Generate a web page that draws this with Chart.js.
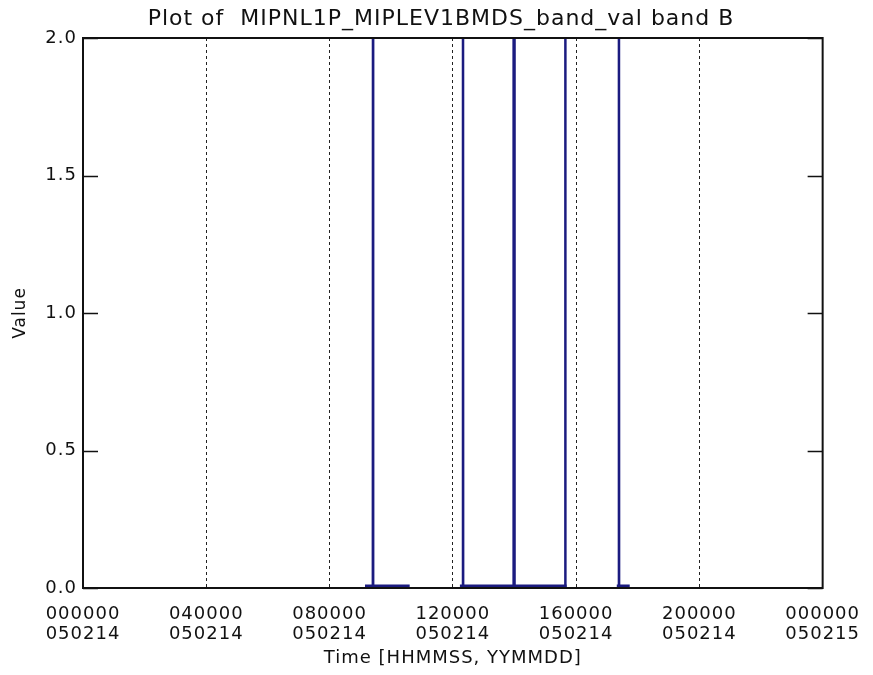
<!DOCTYPE html>
<html lang="en">
<head>
  <meta charset="UTF-8" />
  <title>Plot of MIPNL1P_MIPLEV1BMDS_band_val band B</title>
  <script src="https://cdn.jsdelivr.net/npm/chart.js"></script>
  <style>
    body {
      margin: 0;
      background: #ffffff;
    }
    #plot {
      display: block;
    }
  </style>
</head>
<body>
  <canvas id="plot" width="873" height="675"></canvas>

  <script>
    // time of day in hours, null value = gap between data blocks
    const timeHours = [
      9.15, 9.405, 9.41, 9.415, 10.6, 11.0,
      12.23, 12.325, 12.33, 12.335, 13.955, 13.96, 13.965, 13.975, 13.98, 13.985, 13.995, 14.0, 14.005,
      15.645, 15.65, 15.655, 15.7, 16.5,
      17.32, 17.385, 17.39, 17.395, 17.74
    ];
    const bandValues = [
      0.008, 0.008, 2.6, 0.008, 0.008, null,
      0.008, 0.008, 2.6, 0.008, 0.008, 2.6, 0.008, 0.008, 2.6, 0.008, 0.008, 2.6, 0.008,
      0.008, 2.6, 0.008, 0.008, null,
      0.008, 0.008, 2.6, 0.008, 0.008
    ];

    const xTickHours = [0, 4, 8, 12, 16, 20, 24];
    const xTickLabels = [
      ['000000', '050214'],
      ['040000', '050214'],
      ['080000', '050214'],
      ['120000', '050214'],
      ['160000', '050214'],
      ['200000', '050214'],
      ['000000', '050215']
    ];
    const yTicks = [0, 0.5, 1.0, 1.5, 2.0];

    const ink = '#111111';
    const lineBlue = '#1b1b80';
    const font = { family: 'DejaVu Sans', size: 18, weight: 'normal' };

    // IDL vector font is wide, so spread the letters a little
    const spacing = {
      id: 'spacing',
      beforeDraw(chart) { chart.ctx.letterSpacing = '1px'; }
    };

    // the IDL title sits a bit left of the plot centre
    const titleShift = {
      id: 'titleShift',
      afterLayout(chart) {
        if (chart.titleBlock) chart.titleBlock.left = 59;
      }
    };

    // box round the plot and IDL style inward ticks on both y sides
    const frame = {
      id: 'frame',
      afterDatasetsDraw(chart) {
        const { ctx, chartArea: a, scales } = chart;
        ctx.save();
        ctx.strokeStyle = ink;
        ctx.lineWidth = 2;
        ctx.strokeRect(a.left, a.top, a.right - a.left, a.bottom - a.top);
        ctx.lineWidth = 1.5;
        yTicks.forEach(v => {
          const y = Math.round(scales.y.getPixelForValue(v)) + 0.5;
          ctx.beginPath();
          ctx.moveTo(a.left, y);
          ctx.lineTo(a.left + 15, y);
          ctx.moveTo(a.right, y);
          ctx.lineTo(a.right - 15, y);
          ctx.stroke();
        });
        ctx.restore();
      }
    };

    const points = timeHours.map((t, i) => ({ x: t, y: bandValues[i] }));

    new Chart(document.getElementById('plot'), {
      type: 'line',
      data: {
        datasets: [{
          data: points,
          borderColor: lineBlue,
          borderWidth: 2.5,
          pointRadius: 0,
          tension: 0,
          spanGaps: false,
          clip: 0
        }]
      },
      options: {
        responsive: false,
        animation: false,
        layout: { padding: { left: 0, top: 0, right: 50, bottom: 0 } },
        plugins: {
          legend: { display: false },
          tooltip: { enabled: false },
          title: {
            display: true,
            text: 'Plot of  MIPNL1P_MIPLEV1BMDS_band_val band B',
            color: ink,
            font: { ...font, size: 22 },
            padding: { top: 6, bottom: 5.6 }
          }
        },
        scales: {
          x: {
            type: 'linear',
            min: 0,
            max: 24,
            afterBuildTicks(scale) {
              scale.ticks = xTickHours.map(v => ({ value: v }));
            },
            afterFit(scale) { scale.height = 87; },
            ticks: {
              color: ink,
              font: { ...font, lineHeight: 20 / 18 },
              padding: 16,
              maxRotation: 0,
              autoSkip: false,
              callback: v => xTickLabels[xTickHours.indexOf(v)]
            },
            grid: {
              drawTicks: false,
              lineWidth: 1,
              color: ctx => (ctx.tick && ctx.tick.value > 0 && ctx.tick.value < 24) ? '#222222' : 'rgba(0,0,0,0)'
            },
            border: { display: false, dash: [3, 3] },
            title: {
              display: true,
              text: 'Time [HHMMSS, YYMMDD]',
              color: ink,
              font: font,
              padding: { top: 0, bottom: 5.5 }
            }
          },
          y: {
            min: 0,
            max: 2,
            afterBuildTicks(scale) {
              scale.ticks = yTicks.map(v => ({ value: v }));
            },
            afterFit(scale) { scale.width = 83; },
            ticks: {
              color: ink,
              font: font,
              padding: 6,
              callback: v => v.toFixed(1)
            },
            grid: { display: true, drawOnChartArea: false, drawTicks: false },
            border: { display: false },
            title: {
              display: true,
              text: 'Value',
              color: ink,
              font: { ...font, size: 17 },
              padding: { top: 10, bottom: 0 }
            }
          }
        }
      },
      plugins: [spacing, titleShift, frame]
    });
  </script>
</body>
</html>
